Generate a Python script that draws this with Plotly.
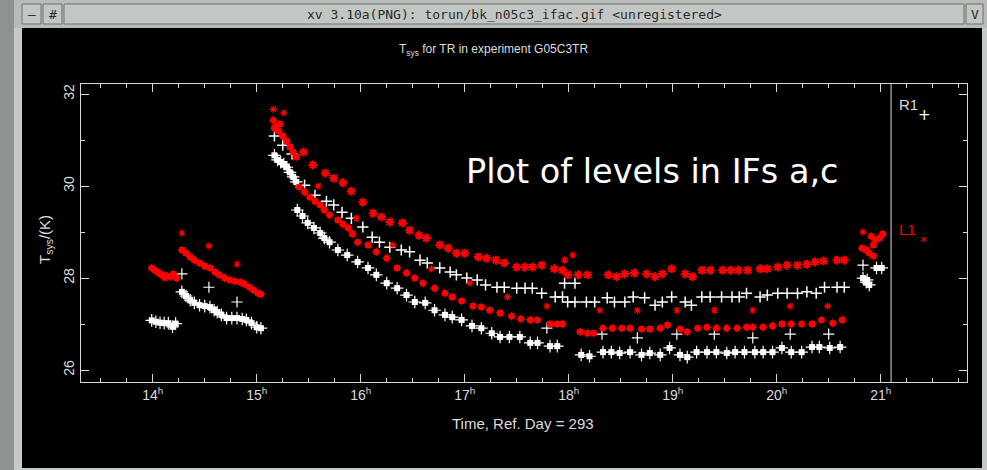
import plotly.graph_objects as go

# ---------------- data (hours UT, Tsys in K) ----------------
hour_ticks = [14, 15, 16, 17, 18, 19, 20, 21]
hour_labels = ["14<sup>h</sup>", "15<sup>h</sup>", "16<sup>h</sup>", "17<sup>h</sup>",
               "18<sup>h</sup>", "19<sup>h</sup>", "20<sup>h</sup>", "21<sup>h</sup>"]
tsys_ticks = [26, 28, 30, 32]
tsys_labels = ["26", "28", "30", "32"]

# R1 (white) densely sampled scans
r1_scan_time = [13.99, 14.03, 14.07, 14.11, 14.15, 14.19, 14.22,
                14.28, 14.32, 14.36, 14.40, 14.45, 14.50, 14.55, 14.59, 14.62, 14.66, 14.71, 14.76,
                14.81, 14.86, 14.90, 14.95, 15.00, 15.04,
                15.17, 15.20, 15.23, 15.26, 15.29, 15.32, 15.35, 15.38,
                15.39, 15.44, 15.49, 15.55, 15.61, 15.65, 15.70, 15.78, 15.87, 15.97,
                16.07, 16.15, 16.25, 16.35, 16.44, 16.52, 16.62, 16.71, 16.81, 16.88, 16.97,
                17.07, 17.16, 17.26, 17.34, 17.43, 17.53, 17.63, 17.70, 17.82, 17.89,
                18.12, 18.20, 18.33, 18.41, 18.49, 18.59, 18.70, 18.78, 18.88, 18.97,
                19.07, 19.14, 19.23, 19.33, 19.42, 19.52, 19.60, 19.69, 19.79, 19.87, 19.96,
                20.05, 20.14, 20.24, 20.34, 20.41, 20.51, 20.61,
                20.96, 21.01, 20.83, 20.86, 20.89, 20.87]
r1_scan_tsys = [27.08, 27.05, 27.03, 27.02, 27.02, 26.94, 27.01,
                27.70, 27.61, 27.52, 27.46, 27.41, 27.39, 27.37, 27.30, 27.26, 27.20, 27.13, 27.13,
                27.13, 27.11, 27.09, 27.02, 26.93, 26.91,
                30.67, 30.57, 30.52, 30.48, 30.41, 30.30, 30.20, 30.09,
                29.48, 29.35, 29.20, 29.09, 28.98, 28.87, 28.78, 28.61, 28.50, 28.35,
                28.22, 28.07, 27.89, 27.78, 27.63, 27.48, 27.46, 27.30, 27.20, 27.15, 27.09,
                26.96, 26.91, 26.80, 26.72, 26.72, 26.72, 26.59, 26.59, 26.52, 26.52,
                26.33, 26.30, 26.39, 26.39, 26.37, 26.39, 26.33, 26.37, 26.33, 26.48,
                26.33, 26.28, 26.39, 26.39, 26.39, 26.37, 26.39, 26.39, 26.39, 26.39, 26.39,
                26.48, 26.39, 26.39, 26.50, 26.50, 26.48, 26.50,
                28.22, 28.22, 28.00, 27.91, 27.85, 27.96]

# R1 (white) sparse points, upper level
r1_point_time = [15.17, 15.25, 15.34,
                 15.46, 15.56, 15.67, 15.74, 15.82, 15.91, 16.02, 16.11, 16.18, 16.28, 16.39, 16.47,
                 16.57, 16.64, 16.76, 16.86, 16.92, 17.02, 17.12, 17.20, 17.31, 17.38, 17.50, 17.58,
                 17.65, 17.74, 17.87, 17.94, 17.96, 18.06,
                 17.99, 18.06, 18.17, 18.25, 18.37, 18.44, 18.54, 18.62, 18.73, 18.83, 18.90, 18.99,
                 19.12, 19.18, 19.28, 19.36, 19.47, 19.57, 19.64, 19.71, 19.84, 19.91,
                 20.01, 20.10, 20.20, 20.29, 20.38, 20.46, 20.58, 20.65]
r1_point_tsys = [31.09, 30.89, 30.70,
                 30.02, 29.80, 29.67, 29.59, 29.43, 29.30, 29.11, 28.89, 28.78, 28.67, 28.61, 28.57,
                 28.39, 28.33, 28.22, 28.13, 28.07, 28.00, 27.96, 27.85, 27.80, 27.80, 27.78, 27.78,
                 27.78, 27.67, 27.59, 27.59, 27.89, 27.89,
                 27.48, 27.48, 27.48, 27.48, 27.57, 27.48, 27.48, 27.59, 27.57, 27.41, 27.48, 27.59,
                 27.48, 27.41, 27.59, 27.59, 27.59, 27.59, 27.59, 27.67, 27.59, 27.63,
                 27.67, 27.67, 27.67, 27.70, 27.67, 27.80, 27.80, 27.80]

# R1 (white) isolated points
r1_extra_time = [14.28, 14.54, 14.81, 17.79, 18.32, 18.66, 19.04, 19.40, 19.77, 20.13, 20.50, 20.83]
r1_extra_tsys = [28.09, 27.80, 27.48, 26.91, 26.78, 26.70, 26.78, 26.78, 26.70, 26.78, 26.78, 28.28]

# L1 (red) densely sampled scans
l1_scan_time = [13.99, 14.02, 14.05, 14.08, 14.11, 14.14, 14.17, 14.20, 14.23,
                14.28, 14.32, 14.36, 14.40, 14.45, 14.50, 14.55, 14.60, 14.64, 14.69, 14.74, 14.79,
                14.84, 14.88, 14.93, 14.97, 15.01, 15.04,
                15.16, 15.17, 15.18, 15.21, 15.22, 15.25, 15.29, 15.32, 15.35, 15.38,
                15.41, 15.46, 15.51, 15.56, 15.61, 15.65, 15.70, 15.78, 15.83, 15.88, 15.92, 15.97,
                16.07, 16.15, 16.25, 16.35, 16.44, 16.52, 16.60, 16.71, 16.81, 16.88, 16.97,
                17.08, 17.16, 17.24, 17.34, 17.45, 17.54, 17.63, 17.70, 17.82, 17.89, 17.94,
                18.11, 18.18, 18.24, 18.33, 18.42, 18.51, 18.59, 18.70, 18.78, 18.88, 18.95,
                19.07, 19.14, 19.24, 19.33, 19.42, 19.52, 19.62, 19.71, 19.77, 19.87, 19.96,
                20.05, 20.14, 20.24, 20.34, 20.43, 20.54, 20.63,
                20.91, 20.95, 20.99, 21.02, 20.93, 20.82, 20.86, 20.89, 20.93]
l1_scan_tsys = [28.22, 28.17, 28.12, 28.08, 28.06, 28.04, 28.03, 28.09, 28.00,
                28.61, 28.54, 28.46, 28.39, 28.33, 28.26, 28.22, 28.13, 28.07, 28.00, 27.96, 27.93,
                27.91, 27.87, 27.80, 27.74, 27.67, 27.65,
                31.43, 31.26, 31.30, 31.20, 31.35, 31.09, 30.98, 30.85, 30.74, 30.63,
                29.98, 29.87, 29.76, 29.67, 29.59, 29.48, 29.37, 29.26, 29.17, 29.09, 28.96, 28.78,
                28.72, 28.57, 28.43, 28.22, 28.11, 28.00, 27.89, 27.78, 27.67, 27.59, 27.50,
                27.39, 27.37, 27.30, 27.24, 27.17, 27.11, 27.09, 27.09, 27.00, 27.00, 27.00,
                26.83, 26.80, 26.80, 26.91, 26.91, 26.91, 26.91, 26.89, 26.89, 26.91, 26.98,
                26.89, 26.83, 26.91, 26.93, 26.91, 26.91, 26.91, 26.93, 26.93, 26.93, 26.96,
                27.00, 27.00, 27.00, 27.00, 27.09, 27.02, 27.09,
                28.91, 28.83, 28.87, 28.96, 28.72, 28.65, 28.61, 28.54, 28.48]

# L1 (red) sparse points, upper level
l1_point_time = [15.45, 15.54, 15.66, 15.74, 15.83, 15.91, 16.02, 16.12, 16.20, 16.28, 16.40,
                 16.47, 16.56, 16.63, 16.76, 16.84, 16.92, 17.00, 17.13, 17.21, 17.30, 17.38,
                 17.50, 17.58, 17.65, 17.74, 17.86, 17.94, 17.99,
                 18.09, 18.18, 18.38, 18.46, 18.54, 18.63, 18.75, 18.83, 18.90, 18.99,
                 19.12, 19.19, 19.28, 19.36, 19.48, 19.56, 19.63, 19.72, 19.84, 19.91,
                 20.01, 20.10, 20.20, 20.29, 20.37, 20.45, 20.58, 20.65]
l1_point_tsys = [30.74, 30.46, 30.28, 30.17, 30.07, 29.89, 29.65, 29.41, 29.33, 29.22, 29.20,
                 29.04, 28.93, 28.87, 28.72, 28.65, 28.54, 28.54, 28.46, 28.43, 28.39, 28.33,
                 28.24, 28.24, 28.24, 28.28, 28.20, 28.17, 28.07,
                 28.07, 28.07, 28.07, 28.03, 28.09, 28.11, 28.09, 28.03, 28.09, 28.20,
                 28.09, 28.03, 28.17, 28.17, 28.17, 28.17, 28.17, 28.17, 28.20, 28.20,
                 28.24, 28.28, 28.28, 28.30, 28.35, 28.37, 28.39, 28.39]

# L1 (red) isolated points
l1_extra_time = [14.11, 14.28, 14.54, 14.81, 15.16, 15.26, 15.59, 15.96, 16.31, 16.68, 17.05,
                 17.41, 17.79, 17.96, 18.04, 18.30, 18.66, 19.04, 19.40, 19.77, 20.13, 20.49, 20.83]
l1_extra_tsys = [28.00, 28.98, 28.70, 28.30, 31.67, 31.59, 30.00, 29.30, 28.72, 28.20, 27.89,
                 27.59, 27.39, 28.39, 28.50, 27.30, 27.30, 27.30, 27.30, 27.30, 27.39, 27.39, 29.00]

# ---------------- figure ----------------
WHITE = "#ffffff"
RED = "#ff0000"
GREY_TXT = "#dcdcdc"
FRAME = "#d8d8d8"

fig = go.Figure()

# white dense scans
fig.add_trace(go.Scatter(x=r1_scan_time, y=r1_scan_tsys, mode="markers",
                         marker=dict(symbol="square", size=6, color=WHITE, line=dict(width=0))))
fig.add_trace(go.Scatter(x=r1_scan_time, y=r1_scan_tsys, mode="markers",
                         marker=dict(symbol="cross-thin", size=9, line=dict(color=WHITE, width=1.2))))
# white sparse
fig.add_trace(go.Scatter(x=r1_point_time, y=r1_point_tsys, mode="markers",
                         marker=dict(symbol="cross-thin", size=8, line=dict(color=WHITE, width=1.5))))
fig.add_trace(go.Scatter(x=r1_extra_time, y=r1_extra_tsys, mode="markers",
                         marker=dict(symbol="cross-thin", size=8, line=dict(color=WHITE, width=1.2))))
# red dense scans
fig.add_trace(go.Scatter(x=l1_scan_time, y=l1_scan_tsys, mode="markers",
                         marker=dict(symbol="circle", size=6.5, color=RED, line=dict(width=0))))
fig.add_trace(go.Scatter(x=l1_scan_time, y=l1_scan_tsys, mode="markers",
                         marker=dict(symbol="asterisk", size=7, line=dict(color=RED, width=1))))
# red sparse
fig.add_trace(go.Scatter(x=l1_point_time, y=l1_point_tsys, mode="markers",
                         marker=dict(symbol="asterisk", size=7.5, line=dict(color=RED, width=2))))
fig.add_trace(go.Scatter(x=l1_extra_time, y=l1_extra_tsys, mode="markers",
                         marker=dict(symbol="asterisk", size=6, line=dict(color=RED, width=1.2))))

W, H = 987, 470
L, R, T, B = 81, 967, 84, 382


def PX(px):
    return (px - L) / (R - L)


def PY(py):
    return (B - py) / (B - T)


def rect(x0, y0, x1, y1, fill, line=None):
    return dict(type="rect", xref="paper", yref="paper", x0=PX(x0), x1=PX(x1),
                y0=PY(y1), y1=PY(y0), fillcolor=fill,
                line=dict(color=line or fill, width=1 if line else 0), layer="above")


shapes = [
    rect(0, 0, 14, 470, "#8f9390"),
    rect(14, 0, 22, 470, "#c6cac6"),
    rect(14, 0, 987, 28, "#b8bcb8"),
    rect(22, 4, 41, 24, "#c3c7c3", "#6e726e"),
    rect(43, 4, 62, 24, "#c3c7c3", "#6e726e"),
    rect(64, 4, 964, 24, "#c3c7c3", "#6e726e"),
    rect(966, 4, 983, 24, "#c3c7c3", "#6e726e"),
    rect(982, 28, 987, 470, "#c6cac6"),
    rect(22, 468, 987, 470, "#c6cac6"),
    # separator between plot and key
    dict(type="line", xref="x", yref="paper", x0=21.1, x1=21.1, y0=0, y1=1,
         line=dict(color=FRAME, width=1)),
]

ann = [
    dict(text="xv 3.10a(PNG): torun/bk_n05c3_ifac.gif &lt;unregistered&gt;", x=PX(514), y=PY(14),
         font=dict(family="DejaVu Sans Mono", size=13, color="#2a2a2a")),
    dict(text="\u2013", x=PX(31.5), y=PY(14), font=dict(family="DejaVu Sans Mono", size=13, color="#2a2a2a")),
    dict(text="#", x=PX(52.5), y=PY(14), font=dict(family="DejaVu Sans Mono", size=13, color="#2a2a2a")),
    dict(text="V", x=PX(975), y=PY(14), font=dict(family="DejaVu Sans Mono", size=13, color="#2a2a2a")),
    dict(text="T<sub>sys</sub> for TR in experiment G05C3TR", x=PX(493), y=PY(50),
         font=dict(family="Liberation Sans", size=12, color=GREY_TXT)),
    dict(text="T<sub>sys</sub>/(K)", x=PX(45), y=PY(240), textangle=-90,
         font=dict(family="Liberation Sans", size=15, color=GREY_TXT)),
    dict(text="Time, Ref. Day = 293", x=PX(523), y=PY(423),
         font=dict(family="Liberation Sans", size=15, color=GREY_TXT)),
    dict(text="Plot of levels in IFs a,c", x=PX(464), y=PY(171), xanchor="left",
         font=dict(family="DejaVu Sans", size=33.5, color=WHITE)),
    dict(text="R1", x=PX(897), y=PY(104), xanchor="left",
         font=dict(family="Liberation Sans", size=15, color=GREY_TXT)),
    dict(text="+", x=PX(924), y=PY(115),
         font=dict(family="DejaVu Sans", size=15, color=WHITE)),
    dict(text="L1", x=PX(897), y=PY(229), xanchor="left",
         font=dict(family="Liberation Sans", size=15, color=RED)),
    dict(text="*", x=PX(923), y=PY(241),
         font=dict(family="DejaVu Sans", size=14, color=RED)),
]
for a in ann:
    a.setdefault("xref", "paper")
    a.setdefault("yref", "paper")
    a.setdefault("showarrow", False)
    a.setdefault("xanchor", "center")
    a.setdefault("yanchor", "middle")

fig.update_layout(
    width=W, height=H,
    margin=dict(l=L, r=W - R, t=T, b=H - B, pad=0),
    paper_bgcolor="#000000", plot_bgcolor="#000000",
    showlegend=False,
    shapes=shapes, annotations=ann,
    xaxis=dict(range=[13.31, 21.83], tickmode="array", tickvals=hour_ticks, ticktext=hour_labels,
               ticks="inside", ticklen=8, tickwidth=1, tickcolor=FRAME,
               minor=dict(ticks="inside", ticklen=4, dtick=0.25, tick0=14, tickcolor=FRAME, tickwidth=1),
               showline=True, linecolor=FRAME, linewidth=1, mirror="ticks",
               showgrid=False, zeroline=False,
               tickfont=dict(family="Liberation Sans", size=14, color=GREY_TXT)),
    yaxis=dict(range=[25.74, 32.22], tickmode="array", tickvals=tsys_ticks, ticktext=tsys_labels,
               tickangle=-90,
               ticks="inside", ticklen=8, tickwidth=1, tickcolor=FRAME,
               minor=dict(ticks="inside", ticklen=4, dtick=1, tick0=26, tickcolor=FRAME, tickwidth=1),
               showline=True, linecolor=FRAME, linewidth=1, mirror="ticks",
               showgrid=False, zeroline=False,
               tickfont=dict(family="Liberation Sans", size=14, color=GREY_TXT)),
)

fig.write_html("out.html")
